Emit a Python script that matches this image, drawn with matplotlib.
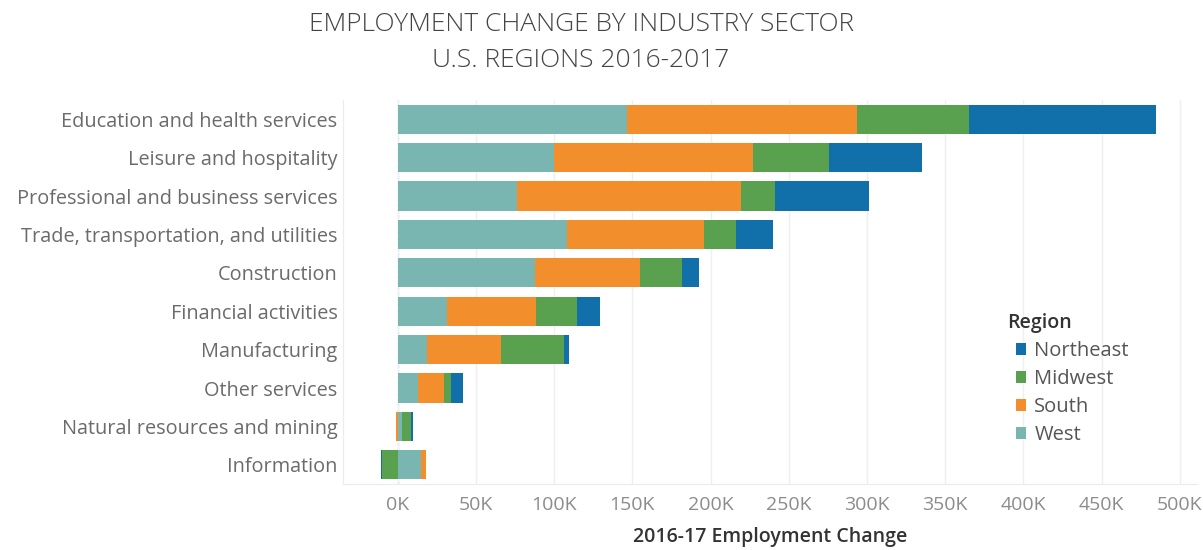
import matplotlib
matplotlib.use("Agg")
import matplotlib.pyplot as plt
import numpy as np

sectors = ["Education and health services", "Leisure and hospitality",
           "Professional and business services", "Trade, transportation, and utilities",
           "Construction", "Financial activities", "Manufacturing", "Other services",
           "Natural resources and mining", "Information"]
regions = ["West", "South", "Midwest", "Northeast"]
west = [146.6, 100.0, 76.4, 108.0, 87.7, 31.7, 18.9, 13.2, 2.7, 14.7]
south = [147.3, 127.0, 143.1, 88.0, 67.4, 57.0, 46.8, 16.5, -0.9, 3.2]
midwest = [71.5, 48.7, 21.4, 20.0, 26.4, 25.8, 40.5, 4.1, 5.8, -10.0]
northeast = [119.2, 59.3, 60.3, 24.0, 11.3, 15.1, 3.2, 8.1, 1.5, -0.7]
colors = {"West": "#7ab6b1", "South": "#f28e2b", "Midwest": "#59a14f", "Northeast": "#1170aa"}
xticks = [0, 50, 100, 150, 200, 250, 300, 350, 400, 450, 500]
xticklabels = [f"{v}K" for v in xticks]

plt.rcParams['font.family'] = ['Open Sans', 'DejaVu Sans']

fig = plt.figure(figsize=(12.03, 5.5), dpi=100)
ax = fig.add_axes([343/1203, 1-484/550, (1197-343)/1203, 384/550])

y = np.arange(len(sectors))
pos_base = np.zeros(len(sectors))
neg_base = np.zeros(len(sectors))
handles = {}
for name, vals in zip(regions, [west, south, midwest, northeast]):
    v = np.array(vals, dtype=float)
    left = np.where(v >= 0, pos_base, neg_base)
    b = ax.barh(y, v, left=left, height=0.76, color=colors[name], edgecolor='none', zorder=3)
    handles[name] = b
    pos_base = pos_base + np.where(v >= 0, v, 0)
    neg_base = neg_base + np.where(v < 0, v, 0)

ax.set_ylim(9.5, -0.5)
ax.set_xlim(-35, 511)
ax.set_yticks(y)
ax.set_yticklabels(sectors, fontsize=14.3, color="#6b6b6b")
ax.set_xticks(xticks)
ax.set_xticklabels(xticklabels, fontsize=14, color="#8c8c8c")
ax.tick_params(axis='both', length=0)
ax.tick_params(axis='y', pad=4)
ax.tick_params(axis='x', pad=9)
ax.grid(axis='x', color="#efefef", linewidth=1, zorder=0)
ax.axvline(0, color="#cccccc", linestyle=(0, (2, 2)), linewidth=1, zorder=1)
for s in ['top', 'right']:
    ax.spines[s].set_visible(False)
for s in ['left', 'bottom']:
    ax.spines[s].set_color("#ececec")

ax.set_xlabel("2016-17 Employment Change", fontsize=14, color="#333333",
              fontweight='semibold', labelpad=9)

fig.text(0.483, 0.955, "EMPLOYMENT CHANGE BY INDUSTRY SECTOR", ha='center', va='center',
         fontsize=19, color="#444444", fontweight='light')
fig.text(0.483, 0.890, "U.S. REGIONS 2016-2017", ha='center', va='center',
         fontsize=19, color="#444444", fontweight='light')

fig.text(1007/1203, 1-323/550, "Region", ha='left', va='center', fontsize=14,
         fontweight='semibold', color="#333333")

order = ["Northeast", "Midwest", "South", "West"]
leg = ax.legend([handles[n] for n in order], order,
                loc='upper left', bbox_to_anchor=(1000/1203, 1-325/550),
                bbox_transform=fig.transFigure, frameon=False, fontsize=14.5,
                handlelength=0.48, handleheight=0.55, handletextpad=0.42,
                labelspacing=0.395, borderpad=0.3)
for t in leg.get_texts():
    t.set_color("#555555")

fig.savefig("out.png", dpi=100)
